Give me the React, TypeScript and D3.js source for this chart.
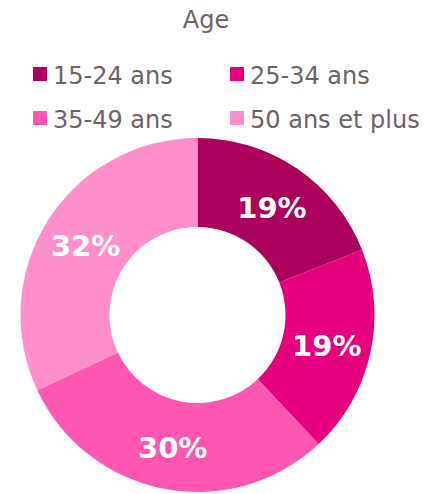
import React from "react";
import * as d3 from "d3";

const categories = ["15-24 ans", "25-34 ans", "35-49 ans", "50 ans et plus"];
const values = [19, 19, 30, 32];
const colors = ["#AB005B", "#E5007E", "#FF57B1", "#FF8FCB"];
const title = "Age";

export default function App() {
  const W = 426, H = 494;
  const cx = 197.5, cy = 315, r1 = 177, r0 = 88;
  const pie = d3.pie<number>().sort(null).value((d) => d)(values);
  const arc = d3.arc<d3.PieArcDatum<number>>().innerRadius(r0).outerRadius(r1);
  const total = d3.sum(values);
  const textColor = "#6d6264";
  const font = "DejaVu Sans, Verdana, sans-serif";
  const legendPos = [
    { x: 33, y: 67 },
    { x: 230, y: 67 },
    { x: 33, y: 111 },
    { x: 230, y: 111 },
  ];
  return (
    <svg width={W} height={H} style={{ position: "absolute", left: 0, top: 0 }} fontFamily={font}>
      <text x={206} y={28} textAnchor="middle" fontSize={24} fill={textColor}>{title}</text>
      {categories.map((c, i) => (
        <g key={c}>
          <rect x={legendPos[i].x} y={legendPos[i].y} width={14} height={14} fill={colors[i]} />
          <text x={legendPos[i].x + 20} y={legendPos[i].y + 17} fontSize={24} fill={textColor}>{c}</text>
        </g>
      ))}
      <g transform={`translate(${cx},${cy})`}>
        {pie.map((p, i) => (
          <path key={i} d={arc(p) || ""} fill={colors[i]} />
        ))}
        {pie.map((p, i) => {
          const [x, y] = arc.centroid(p);
          return (
            <text key={"l" + i} x={x} y={y + 2} dy="0.36em" textAnchor="middle" fontSize={29} fontWeight="bold" fill="#ffffff">
              {Math.round((values[i] / total) * 100)}%
            </text>
          );
        })}
      </g>
    </svg>
  );
}
